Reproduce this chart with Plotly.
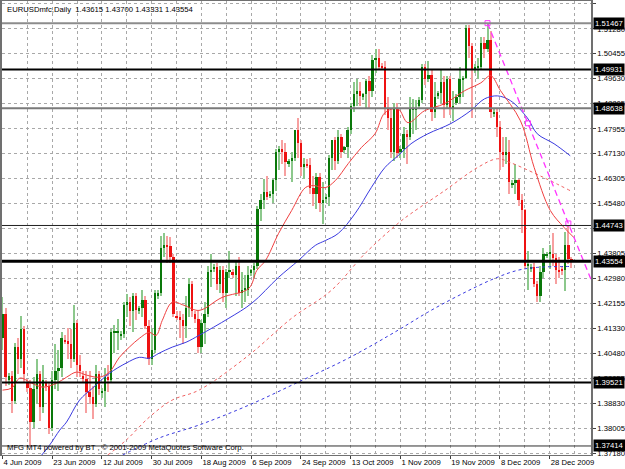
import plotly.graph_objects as go

# ---------------- data ----------------
opens = [1.4100,1.4180,1.3960,1.3975,1.3890,1.4070,1.4030,1.4130,1.3950,1.3935,
         1.3820,1.3930,1.3980,1.3870,1.3950,1.3940,1.3800,1.3960,1.3990,1.4000,
         1.4095,1.4090,1.4080,1.4030,1.4150,1.4010,1.3975,1.3965,1.3920,1.3905,
         1.3880,1.3980,1.3920,1.3925,1.3970,1.3960,1.4120,1.4120,1.4110,1.4115,
         1.4210,1.4220,1.4190,1.4240,1.4190,1.4200,1.4225,1.4140,1.4030,1.4060,
         1.4240,1.4250,1.4400,1.4410,1.4405,1.4370,1.4175,1.4170,1.4160,1.4140,
         1.4200,1.4280,1.4180,1.4165,1.4070,1.4150,1.4180,1.4320,1.4330,1.4335,
         1.4280,1.4325,1.4250,1.4320,1.4320,1.4310,1.4340,1.4250,1.4260,1.4260,
         1.4315,1.4325,1.4340,1.4530,1.4560,1.4585,1.4575,1.4580,1.4625,1.4720,
         1.4730,1.4720,1.4680,1.4690,1.4700,1.4790,1.4750,1.4670,1.4680,1.4675,
         1.4600,1.4580,1.4635,1.4550,1.4565,1.4570,1.4700,1.4760,1.4690,1.4770,
         1.4725,1.4735,1.4790,1.4870,1.4910,1.4920,1.4900,1.4910,1.4955,1.4920,
         1.5025,1.5030,1.5005,1.5000,1.4860,1.4830,1.4720,1.4860,1.4720,1.4730,
         1.4780,1.4770,1.4860,1.4860,1.4870,1.4890,1.5000,1.4960,1.4975,1.4850,
         1.4905,1.4915,1.4950,1.4875,1.4960,1.4860,1.4880,1.4900,1.4960,1.4965,
         1.5130,1.5070,1.4990,1.5000,1.5000,1.5080,1.5060,1.5090,1.4845,1.4850,
         1.4800,1.4720,1.4710,1.4720,1.4610,1.4615,1.4625,1.4560,1.4525,1.4340,
         1.4330,1.4335,1.4280,1.4240,1.4320,1.4375,1.4380,1.4380,1.4365,1.4325,
         1.4330,1.4325,1.4411,1.43615]
highs = [1.4235,1.4200,1.3985,1.3990,1.4085,1.4100,1.4175,1.4140,1.3965,1.3960,
         1.3970,1.4030,1.3990,1.4010,1.3960,1.3955,1.3990,1.4080,1.4060,1.4120,
         1.4110,1.4135,1.4130,1.4210,1.4160,1.4045,1.3990,1.3990,1.3990,1.3940,
         1.4010,1.3990,1.3935,1.4000,1.4010,1.4130,1.4145,1.4165,1.4125,1.4220,
         1.4245,1.4235,1.4250,1.4250,1.4205,1.4260,1.4240,1.4160,1.4135,1.4260,
         1.4260,1.4440,1.4450,1.4440,1.4435,1.4380,1.4190,1.4190,1.4180,1.4240,
         1.4300,1.4290,1.4190,1.4190,1.4160,1.4220,1.4340,1.4380,1.4345,1.4350,
         1.4340,1.4340,1.4330,1.4390,1.4330,1.4360,1.4370,1.4320,1.4310,1.4340,
         1.4330,1.4350,1.4540,1.4580,1.4630,1.4640,1.4590,1.4630,1.4730,1.4740,
         1.4760,1.4750,1.4695,1.4720,1.4790,1.4830,1.4760,1.4700,1.4695,1.4700,
         1.4640,1.4650,1.4650,1.4620,1.4580,1.4710,1.4760,1.4770,1.4790,1.4780,
         1.4740,1.4800,1.4880,1.4950,1.4960,1.4950,1.4915,1.4960,1.4970,1.5040,
         1.5060,1.5060,1.5015,1.5020,1.4900,1.4860,1.4880,1.4880,1.4740,1.4800,
         1.4790,1.4900,1.4895,1.4890,1.4900,1.5010,1.5010,1.5020,1.4990,1.4950,
         1.4920,1.4990,1.4970,1.4970,1.4970,1.4920,1.4910,1.5000,1.4970,1.5140,
         1.5140,1.5080,1.5010,1.5030,1.5100,1.5100,1.5147,1.5120,1.4860,1.4860,
         1.4820,1.4770,1.4770,1.4760,1.4625,1.4680,1.4630,1.4580,1.4530,1.4390,
         1.4345,1.4350,1.4290,1.4340,1.4400,1.4385,1.4410,1.4450,1.4380,1.4370,
         1.4340,1.4452,1.4474,1.43700]
lows = [1.4060,1.3940,1.3945,1.3850,1.3880,1.3980,1.4000,1.3950,1.3920,1.3742,
        1.3800,1.3880,1.3825,1.3850,1.3925,1.3780,1.3790,1.3930,1.3925,1.3970,
        1.4080,1.4030,1.4000,1.4020,1.3970,1.3970,1.3955,1.3850,1.3880,1.3830,
        1.3870,1.3910,1.3900,1.3870,1.3920,1.3950,1.4050,1.4060,1.4095,1.4100,
        1.4170,1.4140,1.4120,1.4160,1.4180,1.4170,1.4130,1.4010,1.4010,1.4050,
        1.4230,1.4240,1.4370,1.4350,1.4350,1.4170,1.4160,1.4100,1.4080,1.4100,
        1.4170,1.4170,1.4150,1.4050,1.4050,1.4080,1.4170,1.4270,1.4320,1.4260,
        1.4250,1.4220,1.4200,1.4300,1.4300,1.4240,1.4240,1.4200,1.4220,1.4240,
        1.4305,1.4300,1.4330,1.4490,1.4530,1.4560,1.4565,1.4550,1.4590,1.4660,
        1.4680,1.4640,1.4670,1.4620,1.4690,1.4700,1.4640,1.4630,1.4665,1.4580,
        1.4540,1.4530,1.4520,1.4480,1.4550,1.4540,1.4660,1.4660,1.4680,1.4700,
        1.4715,1.4700,1.4780,1.4850,1.4870,1.4870,1.4890,1.4860,1.4860,1.4900,
        1.4980,1.4990,1.4990,1.4840,1.4790,1.4700,1.4690,1.4700,1.4700,1.4700,
        1.4680,1.4760,1.4780,1.4790,1.4865,1.4880,1.4940,1.4950,1.4820,1.4830,
        1.4895,1.4880,1.4830,1.4860,1.4840,1.4820,1.4875,1.4880,1.4900,1.4960,
        1.5030,1.4830,1.4980,1.4960,1.4990,1.5030,1.5050,1.4830,1.4835,1.4770,
        1.4660,1.4670,1.4680,1.4580,1.4600,1.4580,1.4540,1.4450,1.4330,1.4260,
        1.4320,1.4270,1.4220,1.4220,1.4300,1.4365,1.4330,1.4340,1.4280,1.4300,
        1.4310,1.4258,1.4345,1.43331]
closes = [1.4180,1.3970,1.3975,1.3890,1.4070,1.4030,1.4130,1.3980,1.3935,1.3820,
          1.3930,1.3980,1.3870,1.3960,1.3940,1.3800,1.3960,1.3990,1.4000,1.4100,
          1.4090,1.4080,1.4030,1.4150,1.4010,1.3990,1.3965,1.3920,1.3905,1.3880,
          1.3980,1.3930,1.3925,1.3970,1.3960,1.4120,1.4120,1.4120,1.4115,1.4210,
          1.4220,1.4190,1.4240,1.4195,1.4200,1.4225,1.4140,1.4030,1.4060,1.4250,
          1.4250,1.4400,1.4410,1.4405,1.4370,1.4180,1.4170,1.4160,1.4140,1.4200,
          1.4280,1.4190,1.4165,1.4070,1.4150,1.4180,1.4320,1.4325,1.4335,1.4280,
          1.4325,1.4250,1.4320,1.4325,1.4310,1.4340,1.4250,1.4260,1.4260,1.4310,
          1.4325,1.4340,1.4530,1.4560,1.4585,1.4570,1.4580,1.4625,1.4720,1.4730,
          1.4720,1.4685,1.4690,1.4700,1.4790,1.4750,1.4670,1.4680,1.4675,1.4600,
          1.4580,1.4635,1.4550,1.4560,1.4570,1.4700,1.4760,1.4690,1.4770,1.4720,
          1.4735,1.4790,1.4870,1.4910,1.4920,1.4905,1.4910,1.4955,1.4920,1.5025,
          1.5030,1.5000,1.5000,1.4860,1.4830,1.4720,1.4860,1.4715,1.4730,1.4780,
          1.4770,1.4860,1.4860,1.4860,1.4890,1.5000,1.4960,1.4975,1.4850,1.4900,
          1.4915,1.4950,1.4875,1.4960,1.4860,1.4870,1.4900,1.4960,1.4965,1.5130,
          1.5070,1.4990,1.5000,1.5000,1.5080,1.5060,1.5090,1.4850,1.4850,1.4800,
          1.4720,1.4710,1.4720,1.4620,1.4615,1.4625,1.4560,1.4525,1.4340,1.4340,
          1.4335,1.4280,1.4240,1.4320,1.4380,1.4380,1.4380,1.4365,1.4325,1.4321,
          1.4325,1.4411,1.4362,1.43554]

# moving averages (bar index, price)
ma_fast_x = [0,3,5.6,9.4,13,17.4,20.6,23.8,27,31.2,34.4,37.6,40.8,44,47.2,49.4,51.4,54.6,58.4,63.2,
             70.6,79.2,81.8,84.6,88.8,93,97.4,100,103.8,107,111.2,115.4,119.8,123,127.2,130.4,135.8,
             142.2,148.6,153.8,157,160.2,166.6,171,176.2,180.6,183.8]
ma_fast_y = [1.3927,1.3934,1.3967,1.3950,1.3937,1.3950,1.3970,1.3987,1.3977,1.3970,1.3987,1.4036,
             1.4070,1.4099,1.4119,1.4109,1.4159,1.4219,1.4209,1.4192,1.4235,1.4265,1.4325,1.4358,
             1.4448,1.4524,1.4600,1.4607,1.4600,1.4623,1.4680,1.4733,1.4779,1.4849,1.4862,1.4816,
             1.4856,1.4879,1.4922,1.4948,1.4972,1.4922,1.4822,1.4667,1.4524,1.4468,1.4434]
ma_mid_x = [12.6,15.2,18.4,20.6,24.8,29,34.4,39.8,44,47.2,50.4,54.6,59,63.2,72.8,80.2,88.8,95.2,
            100.6,103.8,108,113.4,118.6,123,127.2,131.4,136.8,144.2,150.6,155,159.2,163.4,168.8,
            172,177.4,182.6]
ma_mid_y = [1.3711,1.3745,1.3794,1.3821,1.3894,1.3934,1.3983,1.4017,1.4036,1.4033,1.4050,1.4070,
            1.4086,1.4109,1.4166,1.4216,1.4302,1.4358,1.4408,1.4424,1.4448,1.4514,1.4600,1.4667,
            1.4706,1.4746,1.4779,1.4813,1.4856,1.4895,1.4905,1.4889,1.4832,1.4779,1.4746,1.4706]
ma_slow_x = [33.8,39.8,47.2,54.6,63.2,79.2,93,105.8,116.6,127.2,131.4,142.2,152.8,159.2,163.4,174.2,182.6]
ma_slow_y = [1.3711,1.3761,1.3837,1.3894,1.3927,1.4043,1.4166,1.4259,1.4381,1.4481,1.4514,1.4590,
             1.4667,1.4696,1.4683,1.4633,1.4590]
ma_long_x = [38.6,50.4,63.2,79.2,95.2,111.2,127.2,136.8,147.4,158.2,165.6,172,183.2]
ma_long_y = [1.3711,1.3768,1.3811,1.3877,1.3954,1.4033,1.4126,1.4186,1.4245,1.4298,1.4325,1.4335,1.4338]

trend_x = [156, 169, 182, 192]
trend_y = [1.51467, 1.4814, 1.4481, 1.4225]
trend_anchor_x = [156, 169, 182]
trend_anchor_y = [1.51467, 1.4814, 1.4481]

level_values = [1.51467, 1.49931, 1.48638, 1.44743, 1.43554, 1.39521, 1.37414]
level_labels = ["1.51467", "1.49931", "1.48638", "1.44743", "1.43554", "1.39521", "1.37414"]
level_colors = ["#8c8c8c", "#000000", "#7a7a7a", "#202020", "#000000", "#000000", "#303030"]
level_widths = [2, 2, 2, 1, 3, 2, 1]

price_ticks = [1.52105,1.51280,1.50455,1.49630,1.48805,1.47955,1.47130,1.46305,1.45480,1.44655,
               1.43805,1.42980,1.42155,1.41330,1.40480,1.39655,1.38830,1.38005,1.37180]
price_tick_labels = ["1.52105","1.51280","1.50455","1.49630","1.48805","1.47955","1.47130","1.46305",
                     "1.45480","","1.43805","1.42980","1.42155","1.41330","1.40480","1.39655",
                     "1.38830","1.38005","1.37180"]
date_tick_idx = [0,16,32,48,64,80,96,112,128,144,160,176]
date_tick_labels = ["4 Jun 2009","23 Jun 2009","12 Jul 2009","30 Jul 2009","18 Aug 2009","6 Sep 2009",
                    "24 Sep 2009","13 Oct 2009","1 Nov 2009","19 Nov 2009","8 Dec 2009","28 Dec 2009"]
grid_minor_idx = [8,24,40,56,72,88,104,120,136,152,168,184]

header_text = "EURUSDmfc,Daily  1.43615 1.43700 1.43331 1.43554"
footer_text = "MFG MT4 powered by BT , \u00a9 2001-2009 MetaQuotes Software Corp."

# ---------------- figure ----------------
FONT = "Liberation Sans"
FS = 7.7
n = len(closes)
idx = list(range(n))
bull = [c >= o for o, c in zip(opens, closes)]
wick_col = ["#8cc88c" if b else "#f7a0a0" for b in bull]
body_col = ["#0a780a" if b else "#ee1111" for b in bull]
body_base = [min(o, c) for o, c in zip(opens, closes)]
body_h = [max(abs(c - o), 0.00035) for o, c in zip(opens, closes)]
wick_h = [h - l for h, l in zip(highs, lows)]

fig = go.Figure()
fig.add_trace(go.Bar(x=idx, y=wick_h, base=lows, width=0.34, marker=dict(color=wick_col, line_width=0),
                     showlegend=False, hoverinfo="skip"))
fig.add_trace(go.Bar(x=idx, y=body_h, base=body_base, width=0.74, marker=dict(color=body_col, line_width=0),
                     showlegend=False, hoverinfo="skip"))

fig.add_trace(go.Scatter(x=ma_long_x, y=ma_long_y, mode="lines", line=dict(color="#3a3ae0", width=1, dash="3px,3px", shape="spline"), showlegend=False))
fig.add_trace(go.Scatter(x=ma_slow_x, y=ma_slow_y, mode="lines", line=dict(color="#f06060", width=1, dash="3px,3px", shape="spline"), showlegend=False))
fig.add_trace(go.Scatter(x=ma_mid_x, y=ma_mid_y, mode="lines", line=dict(color="#3a3ae0", width=1, shape="spline"), showlegend=False))
fig.add_trace(go.Scatter(x=ma_fast_x, y=ma_fast_y, mode="lines", line=dict(color="#f04040", width=1, shape="spline"), showlegend=False))

fig.add_trace(go.Scatter(x=trend_x, y=trend_y, mode="lines", line=dict(color="#ff33ff", width=1.3, dash="6px,4px"), showlegend=False))
fig.add_trace(go.Scatter(x=trend_anchor_x, y=trend_anchor_y, mode="markers",
                         marker=dict(symbol="square-open", size=5, color="#ff33ff", line=dict(width=1)), showlegend=False))

for v, col, w in zip(level_values, level_colors, level_widths):
    fig.add_shape(type="line", xref="paper", x0=0, x1=1, yref="y", y0=v, y1=v,
                  line=dict(color=col, width=w), layer="above")

for v, t in zip(level_values, level_labels):
    fig.add_annotation(xref="paper", x=1, xanchor="left", xshift=2, yref="y", y=v, text=t, showarrow=False,
                       font=dict(family=FONT, size=FS, color="white"), bgcolor="black", borderpad=1)

fig.add_annotation(xref="paper", yref="paper", x=0, y=1, xanchor="left", yanchor="top", xshift=3, yshift=-2,
                   text=header_text, showarrow=False, font=dict(family=FONT, size=FS, color="black"))
fig.add_annotation(xref="paper", yref="paper", x=0, y=0, xanchor="left", yanchor="bottom", xshift=3, yshift=1,
                   text=footer_text, showarrow=False, font=dict(family=FONT, size=FS, color="black"))

fig.update_layout(
    width=625, height=469, margin=dict(l=2, r=31, t=0, b=14),
    paper_bgcolor="white", plot_bgcolor="white", barmode="overlay", bargap=0,
    showlegend=False,
    font=dict(family=FONT, size=FS, color="black"),
)
fig.update_xaxes(range=[-0.16, 189.28], tickmode="array", tickvals=date_tick_idx, ticktext=date_tick_labels,
                 tickangle=0, ticks="outside", ticklen=3, tickcolor="#404040", ticklabelposition="outside right",
                 showgrid=True, gridcolor="#a8a8a8", griddash="3px,3px", gridwidth=1,
                 minor=dict(tickvals=grid_minor_idx, showgrid=True, gridcolor="#a8a8a8", griddash="3px,3px", ticks=""),
                 showline=True, linecolor="#707070", linewidth=1, mirror=True, zeroline=False,
                 tickfont=dict(family=FONT, size=FS, color="black"))
fig.update_yaxes(range=[1.37114, 1.52204], side="right", tickmode="array", tickvals=price_ticks,
                 ticktext=price_tick_labels, ticks="outside", ticklen=3, tickcolor="#404040",
                 showgrid=True, gridcolor="#a8a8a8", griddash="3px,3px", gridwidth=1,
                 showline=True, linecolor="#707070", linewidth=1.5, mirror=True, zeroline=False,
                 tickfont=dict(family=FONT, size=FS, color="black"))

fig.write_html("out.html")
